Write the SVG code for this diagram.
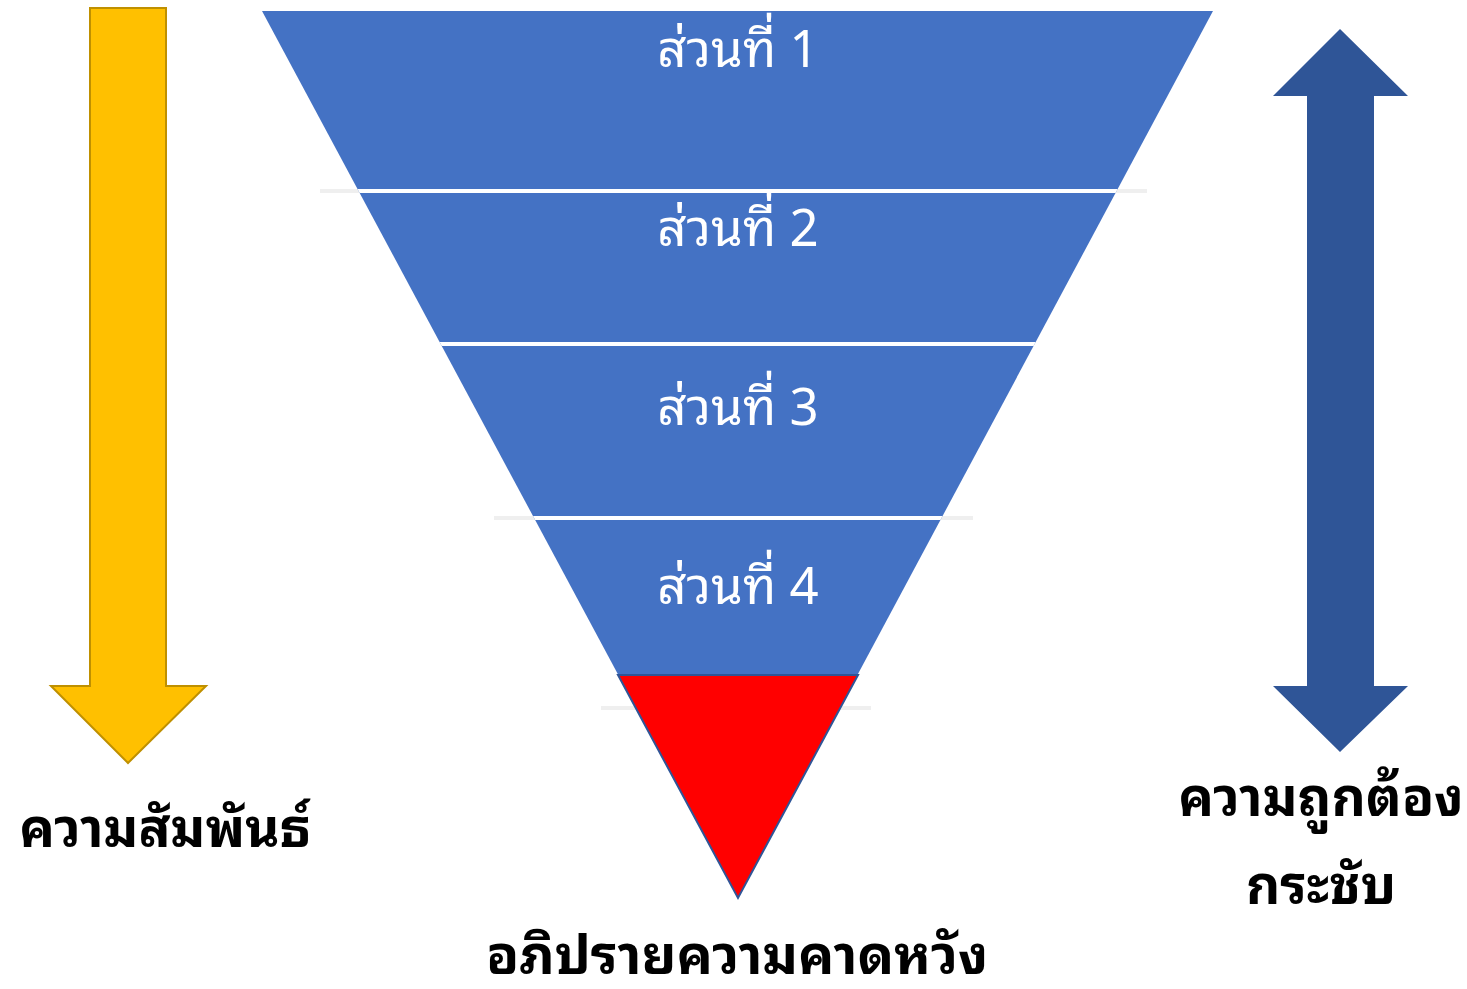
<svg xmlns="http://www.w3.org/2000/svg" width="1467" height="989" viewBox="0 0 1467 989">
<defs>
<style>
.seg { fill: #4472C4; }
.sep { stroke: #FFFFFF; stroke-width: 4; }
.sepout { stroke: #EFEFEF; stroke-width: 4; }
.lbl { font-family: "Noto Sans Thai Looped", "Noto Sans Thai", "Noto Sans", "Liberation Sans", sans-serif; font-size: 51px; fill: #FFFFFF; text-anchor: middle; }
.cap { font-family: "Noto Sans Thai Looped", "Noto Sans Thai", "Noto Sans", "Liberation Sans", sans-serif; font-size: 53px; font-weight: bold; fill: #000000; text-anchor: middle; }
</style>
<clipPath id="tri"><polygon points="262,11 1213,11 738,898"/></clipPath>
</defs>
<rect width="1467" height="989" fill="#FFFFFF"/>
<g id="guides">
<line class="sepout" x1="320" y1="191" x2="1147" y2="191"/>
<line class="sepout" x1="494" y1="518" x2="973" y2="518"/>
<line class="sepout" x1="601" y1="708" x2="871" y2="708"/>
</g>
<g id="funnel">
<polygon class="seg" points="262,11 1213,11 738,898"/>
</g>
<g id="connectors" clip-path="url(#tri)">
<line class="sep" x1="250" y1="191" x2="1220" y2="191"/>
<line class="sep" x1="250" y1="344" x2="1220" y2="344"/>
<line class="sep" x1="250" y1="518" x2="1220" y2="518"/>
</g>
<g id="part1"><text class="lbl" x="738" y="67">ส่วนที่ 1</text></g>
<g id="part2"><text class="lbl" x="738" y="246">ส่วนที่ 2</text></g>
<g id="part3"><text class="lbl" x="738" y="425">ส่วนที่ 3</text></g>
<g id="part4"><text class="lbl" x="738" y="604">ส่วนที่ 4</text></g>
<g id="apex">
<polygon points="618,675 858,675 738,898" fill="#FF0000" stroke="#2F5597" stroke-width="2"/>
</g>
<g id="relation-arrow">
<polygon points="90,8 166,8 166,686 206,686 128,763 51,686 90,686" fill="#FFC000" stroke="#BF9000" stroke-width="2"/>
</g>
<g id="precision-arrow">
<polygon points="1340,29 1408,96 1374,96 1374,686 1408,686 1340,752 1273,686 1307,686 1307,96 1273,96" fill="#2F5597"/>
</g>
<g id="label-relation"><text class="cap" x="165" y="847">ความสัมพันธ์</text></g>
<g id="label-precision"><text class="cap" x="1321" y="816">ความถูกต้อง</text><text class="cap" x="1321" y="904">กระชับ</text></g>
<g id="label-apex"><text class="cap" x="737" y="974" style="font-size:54px">อภิปรายความคาดหวัง</text></g>
</svg>
